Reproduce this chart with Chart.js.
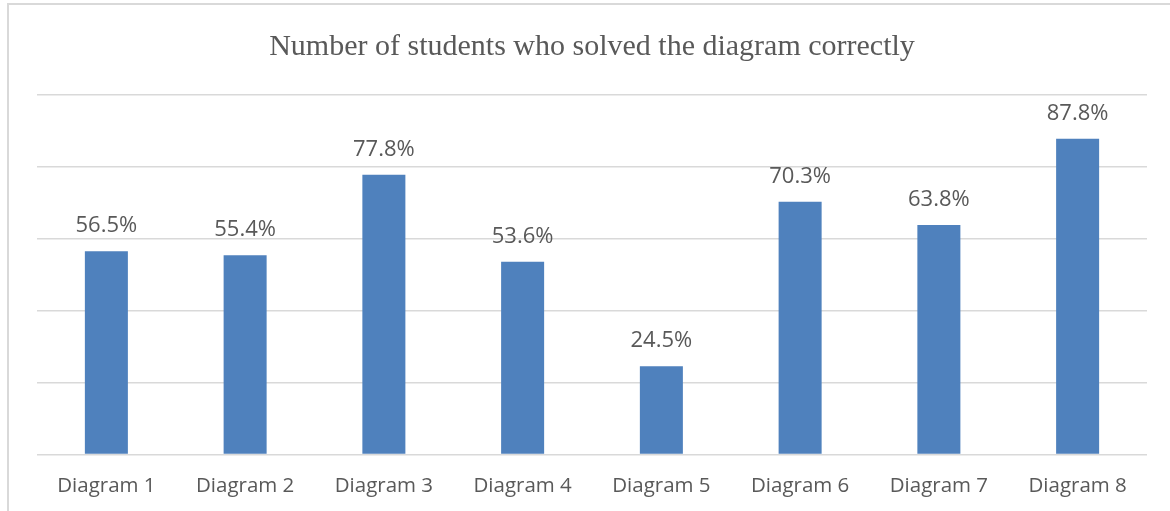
<!DOCTYPE html>
<html>
<head>
<meta charset="utf-8">
<script src="https://cdn.jsdelivr.net/npm/chart.js@4"></script>
<style>
  html, body { margin: 0; padding: 0; background: #fff; }
  #wrap { position: relative; width: 1170px; height: 511px; overflow: hidden; }
  #frame {
    position: absolute; left: 7px; top: 3px; width: 1200px; height: 600px;
    border-top: 2px solid #d9d9d9; border-left: 2px solid #d9d9d9;
  }
  #solvedChart { position: absolute; left: 0; top: 0; }
</style>
</head>
<body>
<div id="wrap">
  <div id="frame"></div>
  <canvas id="solvedChart" width="1170" height="511"></canvas>
</div>
<script>
const diagrams = ['Diagram 1', 'Diagram 2', 'Diagram 3', 'Diagram 4', 'Diagram 5', 'Diagram 6', 'Diagram 7', 'Diagram 8'];
const solvedPct = [56.5, 55.4, 77.8, 53.6, 24.5, 70.3, 63.8, 87.8];
const yTicks = [0, 20, 40, 60, 80, 100];

// value labels above each bar
const barLabels = {
  id: 'barLabels',
  afterDatasetsDraw(chart) {
    const ctx = chart.ctx;
    const meta = chart.getDatasetMeta(0);
    ctx.save();
    ctx.font = '22px "Open Sans"';
    ctx.fillStyle = '#595959';
    ctx.textAlign = 'center';
    ctx.textBaseline = 'alphabetic';
    meta.data.forEach((bar, i) => {
      ctx.fillText(solvedPct[i].toFixed(1) + '%', bar.x, bar.y - 19);
    });
    ctx.restore();
  }
};

const ctx = document.getElementById('solvedChart').getContext('2d');

new Chart(ctx, {
  type: 'bar',
  data: {
    labels: diagrams,
    datasets: [{
      data: solvedPct,
      backgroundColor: '#4f81bd',
      categoryPercentage: 1,
      barPercentage: 0.31,
    }]
  },
  options: {
    responsive: false,
    animation: false,
    layout: { padding: { left: 37, right: 23, top: 0, bottom: 2 } },
    plugins: {
      legend: { display: false },
      tooltip: { enabled: false },
      title: {
        display: true,
        text: 'Number of students who solved the diagram correctly',
        color: '#595959',
        font: { family: '"Liberation Serif", serif', size: 30, weight: 'normal' },
        padding: { top: 29, bottom: 30 }
      }
    },
    scales: {
      x: {
        grid: { display: false },
        border: { display: false },
        ticks: {
          color: '#595959',
          font: { family: '"Open Sans"', size: 20.5 },
          padding: 11
        }
      },
      y: {
        min: 0,
        max: 100,
        afterBuildTicks(axis) {
          axis.ticks = yTicks.map(v => ({ value: v }));
        },
        ticks: { display: false },
        border: { display: false },
        grid: { color: '#d9d9d9', lineWidth: 1.5, drawTicks: false }
      }
    }
  },
  plugins: [barLabels]
});
</script>
</body>
</html>
